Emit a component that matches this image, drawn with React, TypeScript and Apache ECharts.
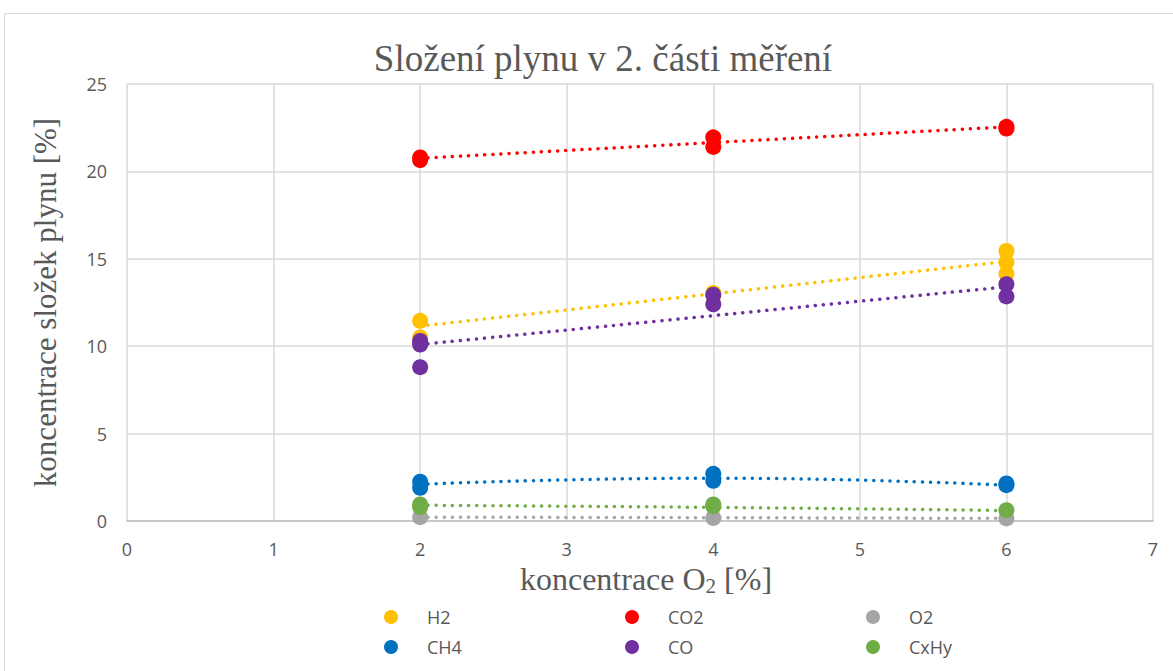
import React, { useEffect, useRef } from "react";
import * as echarts from "echarts";

// O2 concentration (x) for each measured point
const xH2 = [2, 2, 4, 4, 6, 6, 6];
const yH2 = [11.45, 10.5, 13.05, 12.9, 15.45, 14.8, 14.15];
const xCO2 = [2, 2, 4, 4, 6, 6];
const yCO2 = [20.8, 20.65, 21.95, 21.4, 22.55, 22.45];
const xO2 = [2, 4, 6];
const yO2 = [0.22, 0.17, 0.15];
const xCH4 = [2, 2, 4, 4, 6, 6];
const yCH4 = [2.25, 1.9, 2.7, 2.3, 2.15, 2.05];
const xCO = [2, 2, 2, 4, 4, 6, 6];
const yCO = [10.3, 10.1, 8.8, 12.95, 12.4, 13.55, 12.85];
const xCxHy = [2, 2, 4, 4, 6];
const yCxHy = [0.95, 0.8, 0.95, 0.85, 0.62];

// trendline values at x = 2, 4, 6
const trendX = [2, 4, 6];
const trendH2 = [11.15, 13.0, 14.85];
const trendCO2 = [20.75, 21.65, 22.55];
const trendO2 = [0.22, 0.19, 0.15];
const trendCH4 = [2.1, 2.45, 2.05];
const trendCO = [10.1, 11.75, 13.4];
const trendCxHy = [0.9, 0.78, 0.6];

const xTicks = [0, 1, 2, 3, 4, 5, 6, 7];
const yTicks = [0, 5, 10, 15, 20, 25];

const gases = [
  { name: "H2", color: "#FFC000", xs: xH2, ys: yH2, trend: trendH2 },
  { name: "CO2", color: "#FF0000", xs: xCO2, ys: yCO2, trend: trendCO2 },
  { name: "O2", color: "#A5A5A5", xs: xO2, ys: yO2, trend: trendO2 },
  { name: "CH4", color: "#0070C0", xs: xCH4, ys: yCH4, trend: trendCH4 },
  { name: "CO", color: "#7030A0", xs: xCO, ys: yCO, trend: trendCO },
  { name: "CxHy", color: "#70AD47", xs: xCxHy, ys: yCxHy, trend: trendCxHy },
];

const legendColumns = [
  ["H2", "CH4"],
  ["CO2", "CO"],
  ["O2", "CxHy"],
];

export default function App() {
  const ref = useRef<HTMLDivElement>(null);
  useEffect(() => {
    if (!ref.current) return;
    const chart = echarts.init(ref.current, null, { renderer: "svg" });
    const sans = "'Open Sans', 'Liberation Sans', sans-serif";
    const serif = "'Liberation Serif', 'DejaVu Serif', serif";
    const series: any[] = [];
    gases.forEach((g) => {
      series.push({
        name: g.name + " trend",
        type: "line",
        data: trendX.map((x, i) => [x, g.trend[i]]),
        smooth: true,
        showSymbol: false,
        symbol: "none",
        silent: true,
        lineStyle: { color: g.color, width: 3.5, type: [0.1, 8], cap: "round" },
        z: 2,
      });
    });
    gases.forEach((g, k) => {
      series.push({
        name: g.name,
        type: "scatter",
        data: g.xs.map((x, i) => [x, g.ys[i]]),
        symbol: "circle",
        symbolSize: 16,
        itemStyle: { color: g.color, opacity: 1 },
        z: 3 + k,
      });
    });
    const legends = legendColumns.map((col, i) => ({
      data: col,
      orient: "vertical",
      left: 379 + i * 241,
      top: 603,
      itemGap: 12,
      itemWidth: 14,
      itemHeight: 16,
      icon: "circle",
      textStyle: { color: "#595959", fontSize: 18, fontFamily: sans, padding: [0, 0, 0, 24] },
    }));
    chart.setOption({
      animation: false,
      backgroundColor: "#ffffff",
      title: {
        text: "Složení plynu v 2. části měření",
        left: 598,
        textAlign: "center",
        top: 35,
        textStyle: { fontFamily: serif, fontSize: 37, fontWeight: "normal", color: "#595959" },
      },
      graphic: [
        {
          type: "rect",
          shape: { x: 4.5, y: 13.5, width: 1180, height: 680 },
          style: { fill: "none", stroke: "#D9D9D9", lineWidth: 1 },
          silent: true,
        },
      ],
      legend: legends,
      grid: { left: 127, right: 20, top: 84, bottom: 150, containLabel: false },
      xAxis: {
        type: "value",
        min: xTicks[0],
        max: xTicks[xTicks.length - 1],
        interval: 1,
        axisLine: { show: true, lineStyle: { color: "#BFBFBF", width: 1.5 } },
        axisTick: { show: false },
        splitLine: { show: true, lineStyle: { color: "#D9D9D9", width: 1.5 } },
        axisLabel: { color: "#595959", fontSize: 18, fontFamily: sans, margin: 19 },
        name: "{a|koncentrace O}{s|2}{a| [%]}",
        nameLocation: "middle",
        nameGap: 40,
        nameTextStyle: {
          padding: [0, 0, 0, 12],
          rich: {
            a: { fontFamily: serif, fontSize: 32, color: "#595959" },
            s: { fontFamily: serif, fontSize: 21, color: "#595959", padding: [14, 0, 0, 0] },
          },
        },
      },
      yAxis: {
        type: "value",
        min: yTicks[0],
        max: yTicks[yTicks.length - 1],
        interval: 5,
        axisLine: { show: false },
        axisTick: { show: false },
        splitLine: { show: true, lineStyle: { color: "#D9D9D9", width: 1.5 } },
        axisLabel: { color: "#595959", fontSize: 18, fontFamily: sans, margin: 20 },
        name: "koncentrace složek plynu [%]",
        nameLocation: "middle",
        nameGap: 66,
        nameTextStyle: { fontFamily: serif, fontSize: 31, color: "#595959" },
      },
      series,
    });
    return () => chart.dispose();
  }, []);
  return (
    <div
      ref={ref}
      style={{ position: "fixed", left: 0, top: 0, width: 1173, height: 671 }}
    />
  );
}
